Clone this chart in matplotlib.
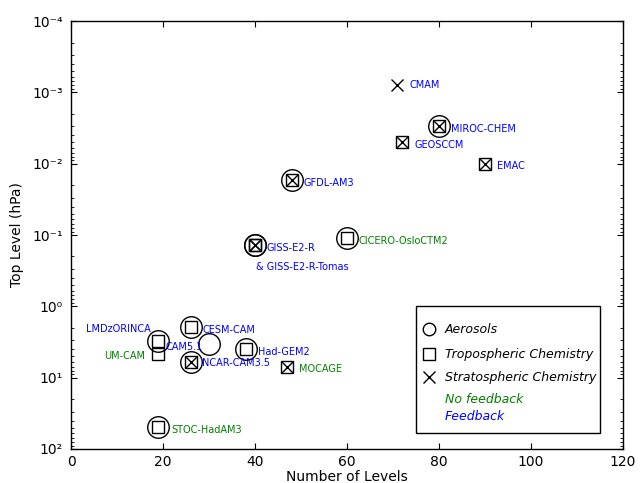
import matplotlib
matplotlib.use("Agg")
import matplotlib.pyplot as plt
import matplotlib.patches as patches
from matplotlib.ticker import FuncFormatter
import numpy as np

# Datos
models = ['CMAM', 'MIROC-CHEM', 'GEOSCCM', 'EMAC', 'GFDL-AM3',
          'GISS-E2-R', '& GISS-E2-R-Tomas', 'CICERO-OsloCTM2', 'CESM-CAM',
          'LMDzORINCA', 'CAM5.1', 'UM-CAM', 'Had-GEM2', 'NCAR-CAM3.5',
          'MOCAGE', 'STOC-HadAM3']
levels = [71, 80, 72, 90, 48, 40, 40, 60, 26, 19, 30, 19, 38, 26, 47, 19]
top_hpa = [0.0008, 0.003, 0.005, 0.01, 0.017, 0.138, 0.138, 0.109, 1.93,
           3.06, 3.41, 4.6, 4.0, 6.0, 7.1, 48.7]
aerosols = [0, 1, 0, 0, 1, 1, 1, 1, 1, 1, 1, 0, 1, 1, 0, 1]
trop_chem = [0, 1, 1, 1, 1, 1, 1, 1, 1, 1, 0, 1, 1, 1, 1, 1]
strat_chem = [1, 1, 1, 1, 1, 1, 1, 0, 0, 0, 0, 0, 0, 1, 1, 0]
feedback = [1, 1, 1, 1, 1, 1, 1, 0, 1, 1, 1, 0, 1, 1, 0, 0]
y_ticks = [1e-4, 1e-3, 1e-2, 1e-1, 1e0, 1e1, 1e2]

# desplazamiento de las etiquetas (pixeles), alineacion
label_dx = [12, 12, 12, 12, 12, 12, 1.5, 12, 11.5, -8, -43, -13.5, 12, 11.5, 11.5, 12.5]
label_dy = [0, -2.5, -2.5, -2.5, -3, -3, -21.5, -3, -3, 12, -3, -2.5, -2.5, -1.5, -1.5, -3]
label_ha = ['left'] * 9 + ['right', 'left', 'right'] + ['left'] * 4

SUP = str.maketrans('-0123456789', '\u207b\u2070\u00b9\u00b2\u00b3\u2074\u2075\u2076\u2077\u2078\u2079')


def pot10(v, pos):
    e = int(round(np.log10(v)))
    return '10' + str(e).translate(SUP)


fig = plt.figure(figsize=(6.4, 4.83), dpi=100)
ax = fig.add_axes([0.111, 0.0704, 0.862, 0.886])

for i, m in enumerate(models):
    x, y = levels[i], top_hpa[i]
    if aerosols[i]:
        ax.plot(x, y, 'o', ms=15.5, mfc='none', mec='k', mew=1.0)
    if trop_chem[i]:
        ax.plot(x, y, 's', ms=8.3, mfc='none', mec='k', mew=1.0)
    if strat_chem[i]:
        ax.plot(x, y, 'x', ms=8.3, mec='k', mew=1.0)
    col = 'blue' if feedback[i] else 'green'
    ax.annotate(m, (x, y), xytext=(label_dx[i] * 0.72, label_dy[i] * 0.72),
                textcoords='offset points', ha=label_ha[i], va='center',
                fontsize=7, color=col)

# Leyenda hecha a mano
ax.add_patch(patches.Rectangle((75, 1), 40, 59, fc='white', ec='k', lw=1.0, zorder=3))
lx, tx = 77.8, 81.3
ax.plot(lx, 2.08, 'o', ms=9, mfc='none', mec='k', mew=1.0, zorder=4)
ax.plot(lx, 4.66, 's', ms=9, mfc='none', mec='k', mew=1.0, zorder=4)
ax.plot(lx, 9.8, 'x', ms=9, mec='k', mew=1.0, zorder=4)
ax.text(tx, 2.08, 'Aerosols', style='italic', fontsize=9, va='center', zorder=4)
ax.text(tx, 4.66, 'Tropospheric Chemistry', style='italic', fontsize=9, va='center', zorder=4)
ax.text(tx, 9.8, 'Stratospheric Chemistry', style='italic', fontsize=9, va='center', zorder=4)
ax.text(tx, 20, 'No feedback', style='italic', fontsize=9, va='center', color='green', zorder=4)
ax.text(tx, 34.6, 'Feedback', style='italic', fontsize=9, va='center', color='blue', zorder=4)

ax.set_yscale('log')
ax.set_xlim(0, 120)
ax.set_ylim(100, 1e-4)
ax.set_xticks(np.arange(0, 121, 20))
ax.set_yticks(y_ticks)
ax.yaxis.set_major_formatter(FuncFormatter(pot10))
ax.tick_params(which='both', direction='in', top=True, right=True)
ax.tick_params(which='major', length=4)
ax.tick_params(which='minor', length=2)
ax.tick_params(axis='x', labelsize=10, pad=4)
ax.tick_params(axis='y', labelsize=10, pad=6)
for s in ax.spines.values():
    s.set_linewidth(1.0)
ax.set_xlabel('Number of Levels', fontsize=10, labelpad=1)
ax.set_ylabel('Top Level (hPa)', fontsize=10, labelpad=6)

fig.savefig('out.png', dpi=100)
